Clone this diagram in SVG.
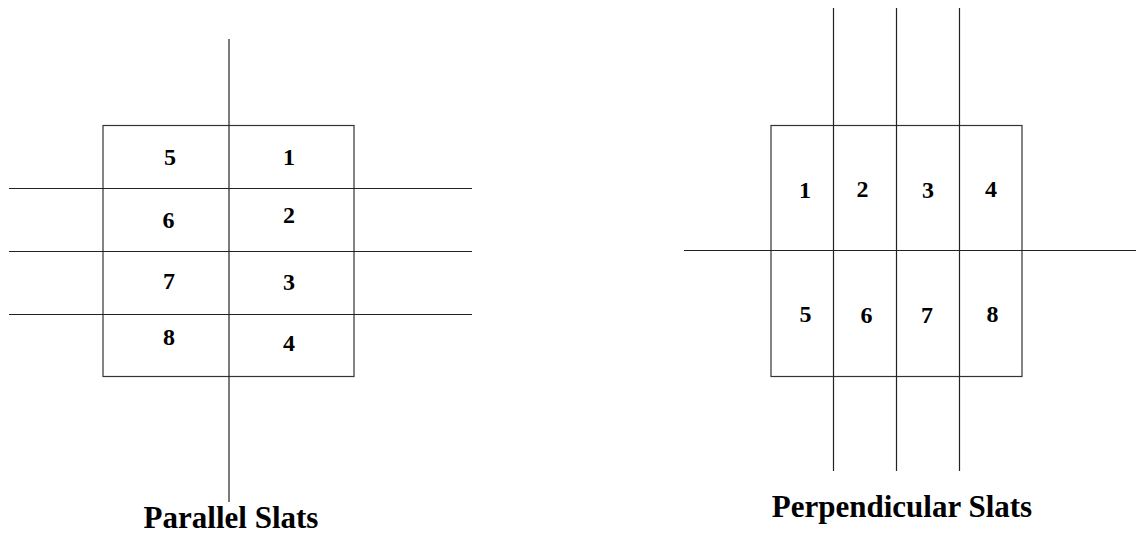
<svg xmlns="http://www.w3.org/2000/svg" width="1136" height="535" viewBox="0 0 1136 535">
<style>
.ln{stroke:#222;stroke-width:1.2;fill:none}
.bx{stroke:#333;stroke-width:1.2;fill:none}
.d{font-family:"Liberation Serif","Times New Roman",serif;font-weight:bold;font-size:24px;fill:#000;text-anchor:middle}
.t{font-family:"Liberation Serif","Times New Roman",serif;font-weight:bold;font-size:31px;fill:#000;text-anchor:middle}
</style>
<rect width="1136" height="535" fill="#fff"/>
<g id="parallel">
<rect class="bx" x="103" y="125.5" width="251" height="251"/>
<g id="parallel-slats">
<line class="ln" x1="229" y1="39" x2="229" y2="502"/>
<line class="ln" x1="9" y1="188.5" x2="472" y2="188.5"/>
<line class="ln" x1="9" y1="251.5" x2="472" y2="251.5"/>
<line class="ln" x1="9" y1="314.5" x2="472" y2="314.5"/>
</g>
<text class="d" x="170" y="165">5</text>
<text class="d" x="289" y="165">1</text>
<text class="d" x="168.5" y="228">6</text>
<text class="d" x="289" y="223">2</text>
<text class="d" x="169" y="288.5">7</text>
<text class="d" x="289" y="289.5">3</text>
<text class="d" x="169" y="345">8</text>
<text class="d" x="289" y="350.5">4</text>
<text class="t" x="231" y="528">Parallel Slats</text>
</g>
<g id="perpendicular">
<rect class="bx" x="771" y="125.5" width="251" height="251"/>
<g id="perpendicular-slats">
<line class="ln" x1="833.5" y1="8" x2="833.5" y2="471"/>
<line class="ln" x1="896.5" y1="8" x2="896.5" y2="471"/>
<line class="ln" x1="959.5" y1="8" x2="959.5" y2="471"/>
<line class="ln" x1="684" y1="250.5" x2="1136" y2="250.5"/>
</g>
<text class="d" x="805" y="197.5">1</text>
<text class="d" x="862.5" y="197">2</text>
<text class="d" x="928" y="198">3</text>
<text class="d" x="991" y="197">4</text>
<text class="d" x="805.5" y="322">5</text>
<text class="d" x="866.5" y="323">6</text>
<text class="d" x="927" y="323">7</text>
<text class="d" x="992.5" y="322">8</text>
<text class="t" x="902" y="517">Perpendicular Slats</text>
</g>
</svg>
